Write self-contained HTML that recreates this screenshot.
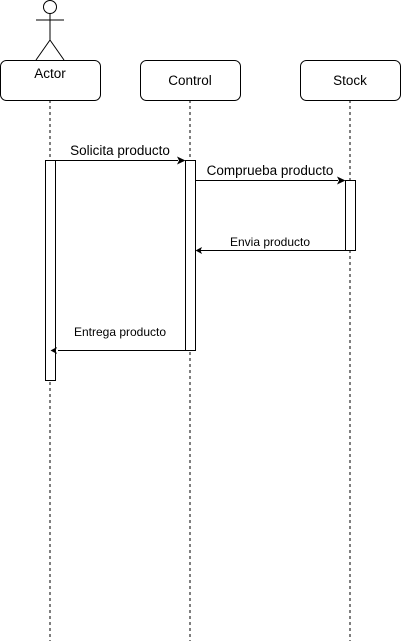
<!DOCTYPE html>
<html><head><style>html,body{margin:0;padding:0;background:#fff;}svg{display:block}</style></head>
<body>
<svg width="401" height="641" viewBox="0 0 401 641" xmlns="http://www.w3.org/2000/svg" font-family="Liberation Sans, Arial, sans-serif">
<g stroke="#000" fill="none">
<line x1="50" y1="100" x2="50" y2="641" stroke-dasharray="3,3"/>
<line x1="190" y1="100" x2="190" y2="641" stroke-dasharray="3,3"/>
<line x1="350" y1="100" x2="350" y2="641" stroke-dasharray="3,3"/>
<circle cx="50" cy="7" r="6.5" fill="#fff"/>
<line x1="50" y1="13.5" x2="50" y2="40"/>
<line x1="36" y1="20" x2="64" y2="20"/>
<line x1="50" y1="40" x2="36" y2="60"/>
<line x1="50" y1="40" x2="64" y2="60"/>
<rect x="0.5" y="60.5" width="100" height="40" rx="6" fill="#fff"/>
<rect x="140.5" y="60.5" width="100" height="40" rx="6" fill="#fff"/>
<rect x="300.5" y="60.5" width="100" height="40" rx="6" fill="#fff"/>
<rect x="45.5" y="160.5" width="10" height="220" fill="#fff"/>
<rect x="185.5" y="160.5" width="10" height="190" fill="#fff"/>
<rect x="345.5" y="180.5" width="10" height="70" fill="#fff"/>
<line x1="55.5" y1="160.5" x2="178" y2="160.5"/>
<line x1="195.5" y1="180.5" x2="338" y2="180.5"/>
<line x1="345.5" y1="250.5" x2="200" y2="250.5"/>
<line x1="185.5" y1="350.5" x2="58" y2="350.5"/>
</g>
<g fill="#000">
<path d="M185.5,160.5 L177,156.5 L179,160.5 L177,164.5Z"/>
<path d="M345.5,180.5 L337,176.5 L339,180.5 L337,184.5Z"/>
<path d="M195.5,250.5 L202,247 L200.5,250.5 L202,254Z"/>
<path d="M50.5,350.5 L57,347 L55.5,350.5 L57,354Z"/>
</g>
<g font-size="13.5" text-anchor="middle" fill="#000">
<text x="50" y="78">Actor</text>
<text x="190" y="85">Control</text>
<text x="350" y="85">Stock</text>
<text x="120" y="155">Solicita producto</text>
<text x="270" y="175">Comprueba producto</text>
</g>
<g font-size="12" text-anchor="middle" fill="#000">
<text x="270" y="246">Envia producto</text>
<text x="120" y="336">Entrega producto</text>
</g>
</svg>
</body></html>
